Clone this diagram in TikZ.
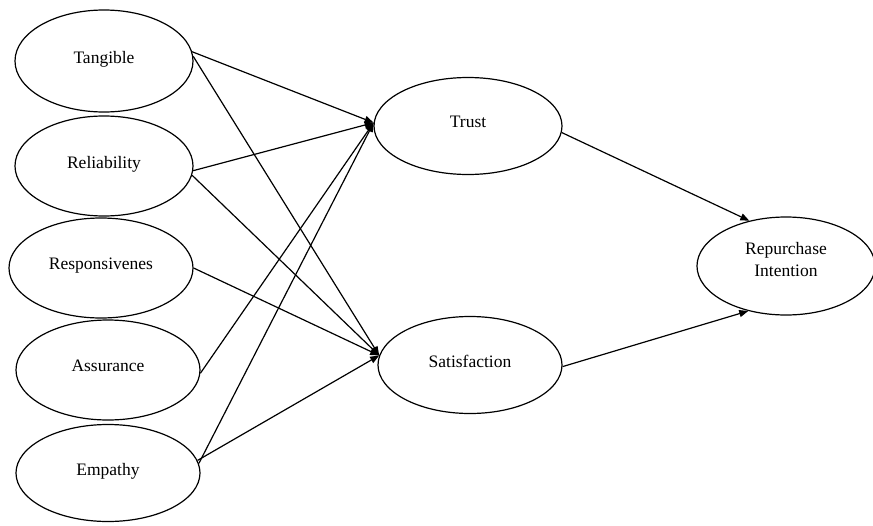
\documentclass[tikz,border=0pt]{standalone}
\usepackage{fontspec}
\setmainfont{Liberation Serif}
\usetikzlibrary{arrows.meta,shapes.geometric}
\tikzset{construct/.style={ellipse,draw,line width=1.2pt,minimum width=178pt,minimum height=100pt,inner sep=0pt,align=center,text depth=8pt,font=\fontsize{17.5}{22}\selectfont},link/.style={-{Triangle[length=9pt,width=7pt]},line width=1.2pt}}

\begin{document}
\begin{tikzpicture}[x=1pt,y=-1pt]
      \useasboundingbox (0,0) rectangle (873,525);
      % service quality dimensions
      \node[construct,minimum height=102pt](tan) at (104,61){Tangible};
      \node[construct](rel) at (104,166){Reliability};
      \node[construct,minimum width=184pt](res) at (101,268){Responsivenes};
      \node[construct,minimum width=184pt](ass) at (108,370){Assurance};
      \node[construct,minimum width=184pt,minimum height=97pt](emp) at (108,473){Empathy};
      % mediators and outcome
      \node[construct,minimum width=188pt,minimum height=97pt](tru) at (468,126){Trust};
      \node[construct,minimum width=184pt,minimum height=97pt](sat) at (470,365){Satisfaction};
      \node[construct,minimum width=178pt,minimum height=98pt,text depth=14pt](rep) at (786,266){Repurchase\\Intention};
      \draw[link](tan.6)--(tru.178);\draw[link](tan.3)--(sat.174);
      \draw[link](rel.357)--(tru.178);\draw[link](rel.354)--(sat.174);
      \draw[link](res.east)--(sat.174);
      \draw[link](ass.358)--(tru.178);
      \draw[link](emp.6)--(tru.178);\draw[link](emp.8)--(sat.174);
      \draw[link](tru.356)--(rep.129);\draw[link](sat.359)--(rep.230);
    \end{tikzpicture}
\end{document}
